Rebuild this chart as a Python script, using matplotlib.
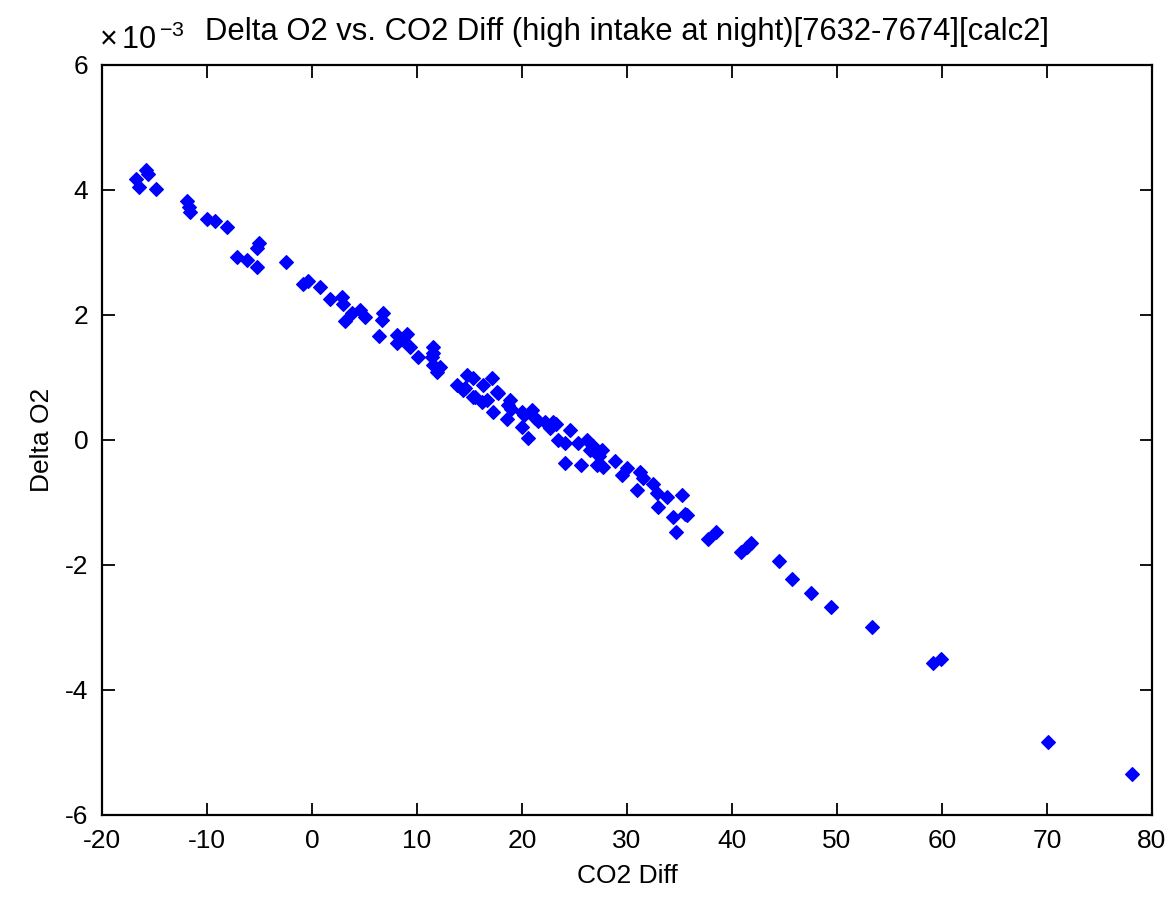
import numpy as np
import matplotlib.pyplot as plt

## data (delta O2 in units of 1e-3)
co2_diff = [-16.76, -16.48, -15.8, -15.6, -14.86, -11.87, -11.62, -11.7, -9.97, -9.21,
            -8.12, -7.17, -6.22, -5.27, -5.27, -5.05, -2.48, -0.83, -0.35, 0.76,
            1.71, 2.83, 2.92, 3.14, 3.78, 4.57, 5.05, 6.79, 6.63, 6.38,
            8.06, 8.7, 9.02, 8.06, 9.33, 10.12, 11.49, 11.4, 11.56, 11.56,
            12.19, 11.87, 13.78, 14.73, 15.36, 14.41, 14.57, 15.52, 15.36, 16.3,
            17.1, 16.16, 16.63, 17.59, 17.75, 17.27, 18.86, 18.7, 18.54, 19.97,
            20.92, 21.24, 19.97, 20.6, 22.19, 22.98, 22.67, 24.57, 23.46, 24.1,
            25.36, 26.16, 26.48, 27.59, 24.1, 25.59, 27.11, 27.75, 28.86, 29.97,
            29.49, 31.24, 30.92, 31.56, 32.5, 32.82, 33.77, 32.98, 35.2, 34.41,
            35.52, 35.68, 34.67, 37.74, 38.44, 40.9, 41.4, 41.78, 44.48, 45.68,
            47.52, 49.4, 53.36, 59.17, 59.9, 70.13, 78.07,
            21.5, 23.2, 26.8, 27.3, 20.2, 19.0]
delta_o2 = [4.17, 4.04, 4.32, 4.26, 4.01, 3.83, 3.65, 3.72, 3.54, 3.50,
            3.41, 2.92, 2.88, 2.76, 3.07, 3.15, 2.84, 2.50, 2.54, 2.45,
            2.26, 2.29, 2.18, 1.91, 2.03, 2.08, 1.97, 2.03, 1.92, 1.66,
            1.68, 1.60, 1.70, 1.55, 1.49, 1.33, 1.49, 1.33, 1.39, 1.20,
            1.16, 1.09, 0.88, 1.04, 0.99, 0.80, 0.83, 0.69, 0.69, 0.88,
            0.99, 0.61, 0.64, 0.77, 0.75, 0.45, 0.64, 0.56, 0.33, 0.45,
            0.48, 0.35, 0.21, 0.03, 0.29, 0.29, 0.19, 0.16, 0.0, -0.05,
            -0.05, 0.0, -0.16, -0.16, -0.37, -0.40, -0.40, -0.43, -0.33, -0.45,
            -0.56, -0.51, -0.80, -0.61, -0.70, -0.85, -0.91, -1.07, -0.88, -1.23,
            -1.18, -1.20, -1.47, -1.59, -1.47, -1.79, -1.71, -1.65, -1.94, -2.22,
            -2.45, -2.68, -3.00, -3.57, -3.51, -4.84, -5.35,
            0.30, 0.25, -0.10, -0.25, 0.40, 0.50]

x_ticks = np.arange(-20, 81, 10)
y_ticks = np.arange(-6, 7, 2)

plt.rcParams['font.family'] = ['Liberation Sans', 'DejaVu Sans']
plt.rcParams['font.size'] = 19
plt.rcParams['axes.unicode_minus'] = False
plt.rcParams['mathtext.fontset'] = 'custom'
plt.rcParams['mathtext.rm'] = 'Liberation Sans'

fig = plt.figure(figsize=(11.73, 9.1), dpi=100)
ax = fig.add_axes([0.087, 0.1044, 0.895, 0.8242])

ax.plot(co2_diff, np.array(delta_o2) * 1e-3, linestyle='none', marker='D',
        markersize=7, color=(0, 0, 1), markeredgewidth=0.8)

ax.set_xlim(-20, 80)
ax.set_ylim(-6e-3, 6e-3)
ax.set_xticks(x_ticks)
ax.set_yticks(y_ticks * 1e-3)

# tick labels in units of 1e-3, multiplier drawn by hand
ax.set_yticklabels([f'{v:g}' for v in y_ticks])
ax.text(-0.003, 1.012, r'$\times\,10^{\,\mathrm{-3}}$', transform=ax.transAxes,
        ha='left', va='bottom', fontsize=22)

ax.tick_params(direction='in', length=9, width=1.3, top=True, right=True, pad=10)
for s in ax.spines.values():
    s.set_linewidth(1.6)

ax.set_xlabel('CO2 Diff', labelpad=8)
ax.set_ylabel('Delta O2', labelpad=8)
ax.set_title('Delta O2 vs. CO2 Diff (high intake at night)[7632-7674][calc2]',
             pad=18, fontsize=22.3)

plt.savefig('out.png', dpi=100)
